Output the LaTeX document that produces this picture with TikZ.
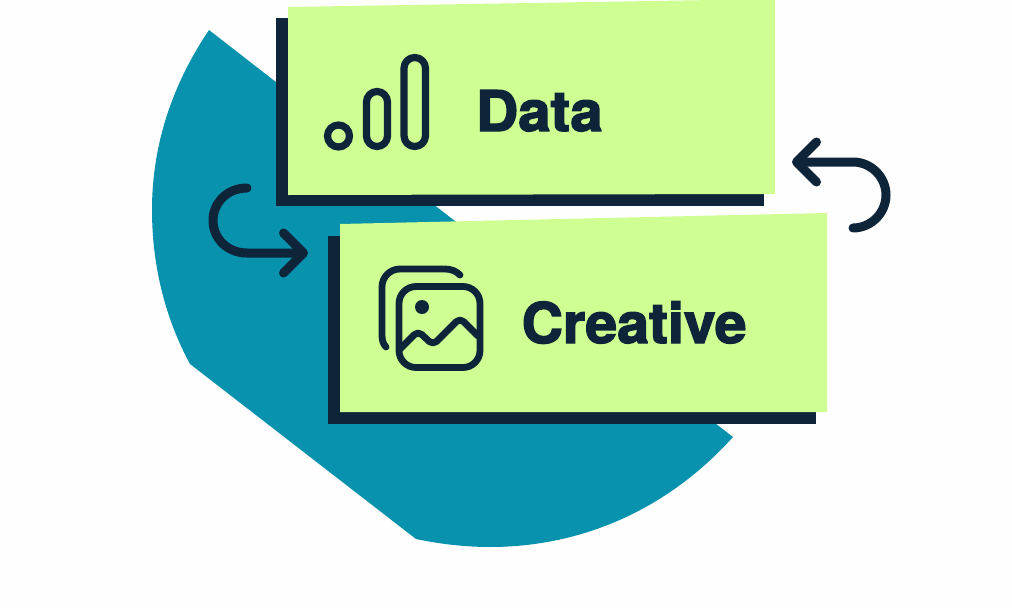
\documentclass[tikz,border=0pt]{standalone}
\usepackage{fontspec}
\setmainfont{TeX Gyre Heros}
\newfontfamily\heavy[BoldFeatures={FakeBold=2.5}]{TeX Gyre Heros}
\usetikzlibrary{arrows.meta}
\definecolor{navy}{HTML}{0E2439}
\definecolor{lime}{HTML}{CFFE92}
\definecolor{teal2}{HTML}{0892AD}
\definecolor{paper}{HTML}{FEFEFE}
\tikzset{
  blob/.style={fill=teal2},
  card/.style={fill=lime},
  shade/.style={fill=navy},
  icon/.style={draw=navy,line width=6.8pt,line cap=round,line join=round},
  bars/.style={icon,line width=7.2pt},
  flow/.style={draw=navy,line width=9pt,line cap=round,line join=round,
    -{Straight Barb[round,length=20pt,width=40pt]}},
  label/.style={text=navy,inner sep=0pt,anchor=base west,font=\heavy\bfseries\fontsize{56}{56}\selectfont}
}
\begin{document}
\begin{tikzpicture}[x=1pt,y=-1pt]
\useasboundingbox (0,0) rectangle (1012,608);
\fill[paper] (0,0) rectangle (1012,608);
% teal shape
\fill[blob] (209,30) -- (733,437)
  .. controls (670,507) and (585,547) .. (490,547)
  .. controls (465,547) and (440,544) .. (416,539)
  -- (190,364)
  .. controls (165,318) and (152,265) .. (152,210)
  .. controls (152,145) and (172,85) .. (209,30) -- cycle;
% Data card
\fill[shade] (276,17.5) rectangle (764,206);
\fill[card] (288,7) -- (775,-1) -- (775,194) -- (288,195) -- cycle;
% Creative card
\fill[shade] (328,236) rectangle (816,423.5);
\fill[card] (340,224) -- (827,213) -- (827,412) -- (340,412) -- cycle;
% Data icon
\node[circle,draw=navy,line width=7.2pt,minimum size=22pt,inner sep=0pt] (dot) at (338.5,136) {};
\draw[bars,rounded corners=10.5pt] (366.5,91.5) rectangle (387.5,146.5);
\draw[bars,rounded corners=10.7pt] (404,57.5) rectangle (425.5,146.5);
\node[label] (data) at (476,131) {\scalebox{1.04}[1]{Data}};
% Creative icon
\draw[icon,rounded corners=17pt] (399,286.5) rectangle (480,367.5);
\draw[icon] (386,347) .. controls (383,344) and (382,340) .. (382,335) -- (382,287)
  .. controls (382,277) and (390,269) .. (400,269) -- (445,269) .. controls (451,269) and (456,271) .. (460,275);
\fill[navy] (422,307) circle[radius=7];
\draw[icon,rounded corners=5pt] (400,349) -- (418,331) -- (433,345) -- (460,318) -- (478,336);
\node[label] (creative) at (521.5,343) {\scalebox{1.02}[1]{Creative}};
% arrows
\coordinate (a1) at (247,188);
\coordinate (a2) at (308,253);
\coordinate (b1) at (853,228);
\coordinate (b2) at (792,162);
\draw[flow] (a1) .. controls (227,188) and (213,203) .. (213,220.5)
  .. controls (213,238) and (227,253) .. (247,253) -- (a2);
\draw[flow] (b1) .. controls (871,228) and (886,213) .. (886,195)
  .. controls (886,177) and (871,162) .. (853,162) -- (b2);
\end{tikzpicture}
\end{document}
